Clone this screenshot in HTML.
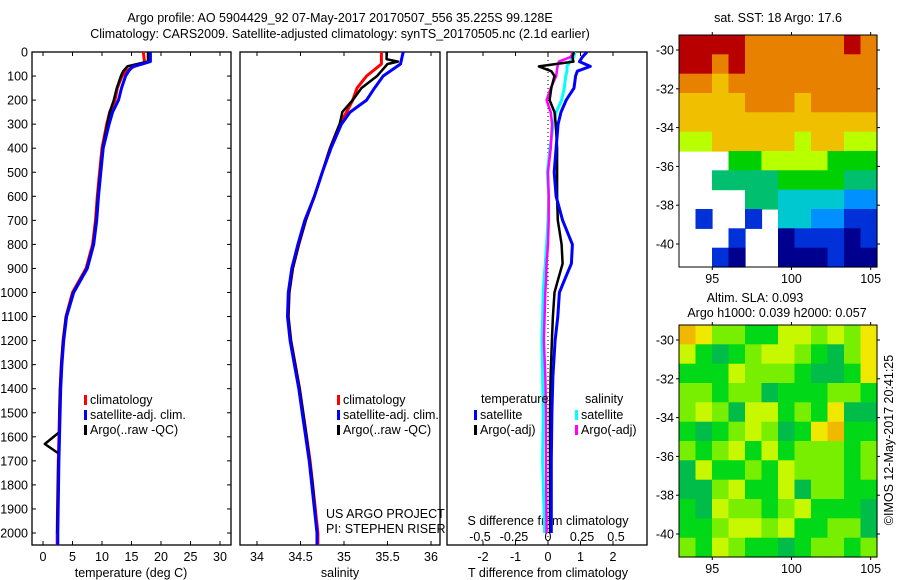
<!DOCTYPE html>
<html><head><meta charset="utf-8">
<style>
html,body{margin:0;padding:0;background:#fff;}
svg{display:block;font-family:"Liberation Sans",sans-serif;}
text{font-size:12.5px;fill:#000;}
</style></head>
<body>
<svg id="c" width="900" height="580" xmlns="http://www.w3.org/2000/svg"></svg>
<script>
// ---- data ----
const depthTicks=[0,100,200,300,400,500,600,700,800,900,1000,1100,1200,1300,1400,1500,1600,1700,1800,1900,2000];
const tempTicks=[0,5,10,15,20,25,30];
const salTicks=[34,34.5,35,35.5,36];
const salTickLabels=["34","34.5","35","35.5","36"];
const dTTicks=[-2,-1,0,1,2];
const dSTicks=[-0.5,-0.25,0,0.25,0.5];
const dSTickLabels=["-0.5","-0.25","0","0.25","0.5"];

const tDepth=[0,40,50,60,80,100,150,200,250,300,400,500,600,700,800,900,1000,1100,1200,1300,1400,1500,1700,2000,2050];
const tClim=[17,17.2,16.8,15.5,14,13.4,12.6,12.2,11.3,10.8,10,9.6,9.2,8.9,8.4,7.3,5.0,3.9,3.4,3.1,2.9,2.8,2.6,2.4,2.4];
const tSat=[18.2,18.2,16.8,15.2,14.5,14.0,13.3,12.8,11.8,11.2,10.2,9.8,9.4,9.1,8.6,7.5,5.2,4.0,3.5,3.2,3.0,2.9,2.7,2.5,2.5];
const tArgoDepth=[0,40,50,60,80,100,150,200,250,300,400,500,600,700,800,900,1000,1100,1200,1300,1400,1500,1580,1630,1670,1700,2000];
const tArgo=[17.8,17.8,16.0,14.3,13.6,13.2,12.5,12.0,11.3,10.9,10.1,9.7,9.3,9.0,8.5,7.4,5.1,3.9,3.4,3.1,2.9,2.8,2.8,0.3,2.7,2.6,2.4];

const sDepth=[0,50,100,150,200,250,300,400,500,600,700,800,900,1000,1100,1200,1300,1400,1500,1600,1700,1800,1900,2000,2050];
const sClim=[35.43,35.43,35.26,35.15,35.10,35.03,34.95,34.84,34.75,34.66,34.56,34.48,34.41,34.37,34.36,34.39,34.44,34.49,34.53,34.57,34.61,34.64,34.67,34.70,34.70];
const sSat=[35.68,35.65,35.45,35.35,35.26,35.07,34.97,34.85,34.75,34.66,34.55,34.47,34.40,34.36,34.35,34.38,34.43,34.48,34.52,34.56,34.60,34.63,34.66,34.69,34.69];
const sArgoDepth=[0,30,40,50,100,150,200,250,300,400,500,600,700,800,900,1000,1100,1200,1400,1600,1800,2000];
const sArgo=[35.49,35.49,35.62,35.50,35.38,35.20,35.10,34.98,34.95,34.84,34.75,34.66,34.56,34.48,34.41,34.37,34.36,34.39,34.49,34.57,34.64,34.69];

const dDepth=[0,20,40,60,80,100,150,200,250,300,400,500,600,700,800,880,950,1000,1100,1200,1350,1500,1700,2000];
const dTSat=[1.2,1.06,0.97,1.3,0.9,0.85,0.8,0.56,0.4,0.31,0.25,0.19,0.25,0.45,0.75,0.72,0.5,0.35,0.3,0.22,0.15,0.12,0.1,0.1];
const dTArgo=[0.8,0.75,0.78,-0.28,0.1,0.2,0.1,0.05,0.2,0.24,0.28,0.28,0.28,0.3,0.42,0.45,0.3,0.2,0.15,0.12,0.08,0.06,0.06,0.06];
const dSSat=[0.2,0.19,0.16,0.14,0.14,0.13,0.12,0.1,0.06,0.04,0.015,-0.005,0.005,0,-0.01,-0.02,-0.03,-0.035,-0.04,-0.045,-0.04,-0.035,-0.04,-0.025];
const dSArgo=[0.18,0.17,0.08,0.07,0.065,0.06,0.02,-0.01,0.02,0.03,0.02,0,0.005,0.005,0,-0.01,-0.015,-0.02,-0.025,-0.03,-0.02,-0.015,-0.015,-0.01];

const latTicks=[-30,-32,-34,-36,-38,-40];
const lonTicks=[95,100,105];
// SST grid rows (lat -29.2 .. -41.2), cols lon 93..105 ; n = missing
const sstRows=["999988888898","998988888888","887888888888","777788878888","777777777777","667777767766","nnn556666555","nn4444555544","nnnn44333322","n1nn1n332211","nnn1nn011101","nn10nn000100"];
const slaRows=["542211332324","310123321024","111322210014","221220111221","232033121400","101232014511","212313122212","031121322212","002311302211","103221231110","112332311220","213211012212"];

// ---- helpers ----
const svg=document.getElementById('c');
const NS='http://www.w3.org/2000/svg';
function el(tag,attrs,parent){const e=document.createElementNS(NS,tag);for(const k in attrs)e.setAttribute(k,attrs[k]);(parent||svg).appendChild(e);return e;}
function txt(x,y,s,anchor,parent,extra){const t=el('text',Object.assign({x:x,y:y,'text-anchor':anchor||'start'},extra||{}),parent);t.textContent=s;return t;}

const top0=52, pxPer100=24.05, bot=545;
const yD=d=>top0+d*pxPer100/100;
const xT=t=>43+t*5.9;
const xS=s=>257+(s-34)*87;
const xDT=v=>548+v*32.5;
const xDS=v=>548+v*136;

// titles
let g=el('g',{});


txt(340,22,"Argo profile: AO 5904429_92 07-May-2017 20170507_556 35.225S 99.128E",'middle',g);
txt(340,38,"Climatology: CARS2009. Satellite-adjusted climatology: synTS_20170505.nc (2.1d earlier)",'middle',g);

function panel(name,x0,x1){
  const p=el('g',{});
  
  
  el('rect',{x:x0,y:top0,width:x1-x0,height:bot-top0,fill:'#fff',stroke:'#000','stroke-width':1.3},p);
  return p;
}
function line(p,xs,ys,fx,color,w,name,dash){
  const pts=xs.map((v,i)=>fx(v).toFixed(1)+','+yD(ys[i]).toFixed(1)).join(' ');
  const l=el('polyline',{points:pts,fill:'none',stroke:color,'stroke-width':w,'stroke-linejoin':'round'},p);
  
  
  if(dash)l.setAttribute('stroke-dasharray',dash);
  return l;
}
function xTicks(p,ticks,labels,fx,ylab){
  ticks.forEach((t,i)=>{const x=fx(t);
    el('line',{x1:x,y1:top0,x2:x,y2:top0+4,stroke:'#000'},p);
    el('line',{x1:x,y1:bot,x2:x,y2:bot-4,stroke:'#000'},p);
    if(ylab!==null){const tl=txt(x,ylab,labels[i],'middle',p);}
  });
}
function legendEntry(p,x,y,color,label){
  const r=el('rect',{x:x,y:y-9,width:3,height:10,fill:color},p);
  
  
  const t=txt(x+6,y,label,'start',p);
  
  
}

// Panel 1 temperature
let p1=panel('temperature-panel',32,231);
depthTicks.forEach(d=>{const y=yD(d);
  el('line',{x1:32,y1:y,x2:36,y2:y,stroke:'#000'},p1);
  el('line',{x1:231,y1:y,x2:227,y2:y,stroke:'#000'},p1);
  const t=txt(28,y+4.5,String(d),'end',p1);
  
  
});
xTicks(p1,tempTicks,tempTicks.map(String),xT,561);
let at=txt(131,577,"temperature (deg C)",'middle',p1);
line(p1,tClim,tDepth,xT,'#f00',3,'temp-climatology-line');
line(p1,tArgo,tArgoDepth,xT,'#000',2.5,'temp-argo-line');
line(p1,tSat,tDepth,xT,'#00f',3,'temp-satellite-line');
legendEntry(p1,84,404,'#f00','climatology');
legendEntry(p1,84,419,'#00f','satellite-adj. clim.');
legendEntry(p1,84,434,'#000','Argo(..raw -QC)');

// Panel 2 salinity
let p2=panel('salinity-panel',240,440);
xTicks(p2,salTicks,salTickLabels,xS,561);
at=txt(340,577,"salinity",'middle',p2);
line(p2,sClim,sDepth,xS,'#f00',3,'sal-climatology-line');
line(p2,sArgo,sArgoDepth,xS,'#000',2.5,'sal-argo-line');
line(p2,sSat,sDepth,xS,'#00f',3,'sal-satellite-line');
legendEntry(p2,337,404,'#f00','climatology');
legendEntry(p2,337,419,'#00f','satellite-adj. clim.');
legendEntry(p2,337,434,'#000','Argo(..raw -QC)');
let cr=el('g',{},p2);
txt(326,518,"US ARGO PROJECT",'start',cr);
txt(326,533,"PI: STEPHEN RISER",'start',cr);

// Panel 3 differences
let p3=panel('difference-panel',447,647);
xTicks(p3,dTTicks,dTTicks.map(String),xDT,561);
at=txt(548,577,"T difference from climatology",'middle',p3);
dSTicks.forEach((t,i)=>{const tl=txt(xDS(t),541,dSTickLabels[i],'middle',p3);});
at=txt(548,525,"S difference from climatology",'middle',p3);
let z=el('line',{x1:548,y1:top0,x2:548,y2:bot,stroke:'#000','stroke-dasharray':'1,3'},p3);

line(p3,dSSat,dDepth,xDS,'#0ff',3,'sal-satellite-diff-line');
line(p3,dSArgo,dDepth,xDS,'#f0f',2.5,'sal-argo-diff-line');
line(p3,dTArgo,dDepth,xDT,'#000',2.5,'temp-argo-diff-line');
line(p3,dTSat,dDepth,xDT,'#00f',3,'temp-satellite-diff-line');
let lt=txt(481,403,"temperature",'start',p3);
let ls=txt(585,403,"salinity",'start',p3);
legendEntry(p3,474,419,'#00f','satellite');
legendEntry(p3,474,434,'#000','Argo(-adj)');
legendEntry(p3,575,419,'#0ff','satellite');
legendEntry(p3,575,434,'#f0f','Argo(-adj)');

// maps
const sstPal=['#00008f','#0030d8','#0090ff','#00c8d0','#00c070','#00d000','#b8ff00','#f0c000','#e88000','#b80000'];
const slaPal=['#00bc48','#00d818','#78ee00','#c8f800','#f0e800','#f0b800'];
const mapX0=679,mapX1=877,lonMin=92.9,lonMax=105.4;
function mapPanel(name,y0,y1,latAt30y,rows,pal){
  const m=el('g',{});
  
  
  const pxLat=19.4;
  const yL=lat=>latAt30y+(-30-lat)*pxLat;
  const xL=lon=>mapX0+(lon-lonMin)*(mapX1-mapX0)/(lonMax-lonMin);
  const nr=rows.length,nc=rows[0].length;
  const cw=(mapX1-mapX0)/nc,ch=(y1-y0)/nr;
  rows.forEach((r,i)=>{for(let j=0;j<nc;j++){const ch_=r[j];if(ch_==='n')continue;
    const c=el('rect',{x:(mapX0+j*cw).toFixed(1),y:(y0+i*ch).toFixed(1),width:(cw+0.6).toFixed(1),height:(ch+0.6).toFixed(1),fill:pal[+ch_]},m);
    
    
  }});
  el('rect',{x:mapX0,y:y0,width:mapX1-mapX0,height:y1-y0,fill:'none',stroke:'#000'},m);
  latTicks.forEach(l=>{const y=yL(l);
    el('line',{x1:mapX0-3,y1:y,x2:mapX0,y2:y,stroke:'#000'},m);
    el('line',{x1:mapX1,y1:y,x2:mapX1+3,y2:y,stroke:'#000'},m);
    const t=txt(mapX0-5,y+4.5,String(l),'end',m);});
  lonTicks.forEach(l=>{const x=xL(l);
    el('line',{x1:x,y1:y0-3,x2:x,y2:y0,stroke:'#000'},m);
    el('line',{x1:x,y1:y1,x2:x,y2:y1+3,stroke:'#000'},m);
    const t=txt(x,y1+16,String(l),'middle',m);});
  return m;
}
mapPanel('sst-map',35,267,50,sstRows,sstPal);
mapPanel('sla-map',325,557,340,slaRows,slaPal);
let mt=txt(778,22,"sat. SST: 18 Argo: 17.6",'middle');
let mt2=el('g',{});
txt(755,302,"Altim. SLA: 0.093",'middle',mt2);
txt(777,317,"Argo h1000: 0.039 h2000: 0.057",'middle',mt2);
let st=txt(0,0,"©IMOS 12-May-2017 20:41:25",'middle',null,{transform:'translate(893,440) rotate(-90)'});

</script>
</body></html>
